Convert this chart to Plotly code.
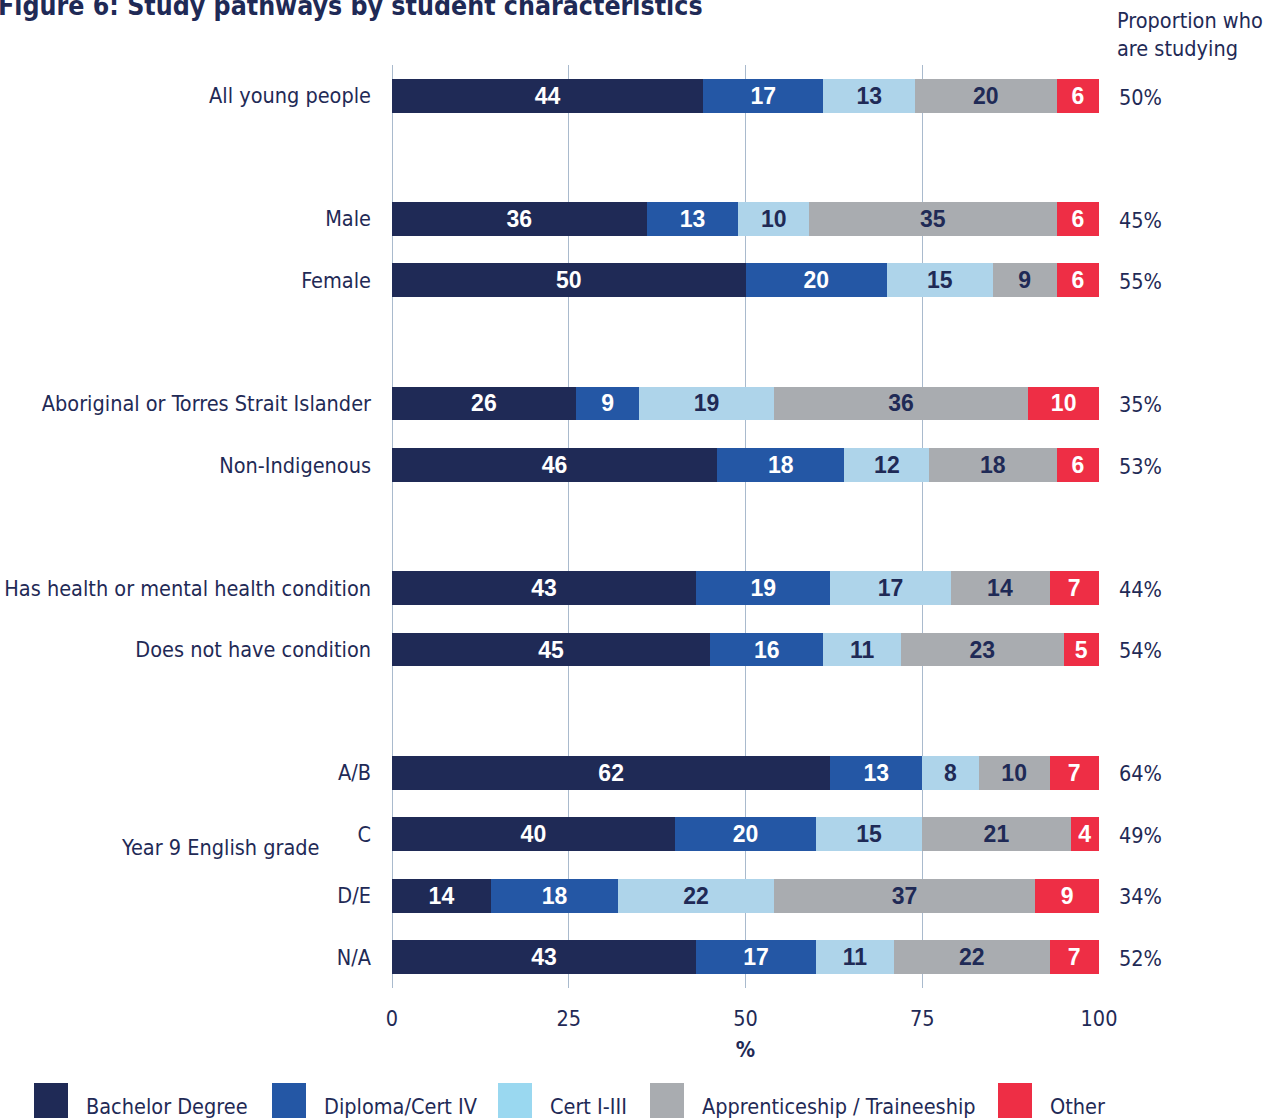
import plotly.graph_objects as go

# ---- data -------------------------------------------------------------
groups = [
    "All young people",
    "Male",
    "Female",
    "Aboriginal or Torres Strait Islander",
    "Non-Indigenous",
    "Has health or mental health condition",
    "Does not have condition",
    "A/B",
    "C",
    "D/E",
    "N/A",
]
# row slots (gaps separate the characteristic blocks)
row_pos = [0, 2, 3, 5, 6, 8, 9, 11, 12, 13, 14]

series_names = ["Bachelor Degree", "Diploma/Cert IV", "Cert I-III",
                "Apprenticeship / Traineeship", "Other"]
bachelor = [44, 36, 50, 26, 46, 43, 45, 62, 40, 14, 43]
diploma = [17, 13, 20, 9, 18, 19, 16, 13, 20, 18, 17]
cert = [13, 10, 15, 19, 12, 17, 11, 8, 15, 22, 11]
apprentice = [20, 35, 9, 36, 18, 14, 23, 10, 21, 37, 22]
other = [6, 6, 6, 10, 6, 7, 5, 7, 4, 9, 7]
studying = ["50%", "45%", "55%", "35%", "53%", "44%", "54%", "64%", "49%", "34%", "52%"]
x_ticks = [0, 25, 50, 75, 100]

# ---- styling ----------------------------------------------------------
NAVY = "#1f2a56"
fill_colors = ["#1f2a56", "#2457a5", "#aed4ea", "#a9acb0", "#ee2e45"]
legend_colors = ["#1f2a56", "#2457a5", "#9ad8f0", "#a9acb0", "#ee2e45"]
text_colors = ["white", "white", NAVY, NAVY, "white"]
LABEL_FONT = "DejaVu Sans Condensed, Liberation Sans Narrow, Roboto, sans-serif"
VALUE_FONT = "Liberation Sans, Arial, sans-serif"
FS = 21.5


def lfont(size=FS, **kw):
    return dict(family=LABEL_FONT, size=size, color=NAVY, **kw)


W, H = 1279, 1119
L, R, T, B = 392, 180, 65, 131
PW, PH = W - L - R, H - T - B


def px_x(px):
    return (px - L) / PW


def px_y(py):
    return 1 - (py - T) / PH


fig = go.Figure()
all_series = [bachelor, diploma, cert, apprentice, other]
for name, vals, col, tcol in zip(series_names, all_series, fill_colors, text_colors):
    fig.add_trace(go.Bar(
        name=name,
        y=row_pos,
        x=vals,
        orientation="h",
        width=0.55,
        marker=dict(color=col, line=dict(width=0)),
        text=[str(v) for v in vals],
        textposition="inside",
        insidetextanchor="middle",
        constraintext="none",
        textfont=dict(family=VALUE_FONT, size=23, color=tcol, weight="bold"),
        showlegend=False,
        hoverinfo="skip",
    ))

fig.update_layout(
    barmode="stack",
    width=W, height=H, autosize=False,
    margin=dict(l=L, r=R, t=T, b=B, autoexpand=False),
    paper_bgcolor="white",
    plot_bgcolor="white",
    font=lfont(),
)

fig.update_xaxes(
    range=[0, 100],
    tickvals=x_ticks,
    ticktext=[str(v) for v in x_ticks],
    showgrid=True, gridcolor="#a9bacd", gridwidth=1.3,
    zeroline=True, zerolinecolor="#a9bacd", zerolinewidth=1.3,
    showline=False,
    ticks="",
    ticklabelstandoff=15,
    tickfont=lfont(),
    title=dict(text="<b>%</b>", font=lfont(), standoff=12),
    automargin=False,
    fixedrange=True,
)

fig.update_yaxes(
    range=[14.5, -0.5],
    tickvals=row_pos,
    ticktext=groups,
    showgrid=False, zeroline=False, showline=False,
    ticks="",
    ticklabelstandoff=20,
    tickfont=lfont(),
    automargin=False,
    fixedrange=True,
)

annotations = []
# title
annotations.append(dict(
    text="<b>Figure 6: Study pathways by student characteristics</b>",
    xref="paper", yref="paper", x=px_x(-4), y=px_y(5),
    xanchor="left", yanchor="middle", showarrow=False,
    font=lfont(26.5),
))
# right-hand column header
annotations.append(dict(
    text="Proportion who<br>are studying",
    xref="paper", yref="paper", x=px_x(1115), y=px_y(34),
    xanchor="left", yanchor="middle", align="left", showarrow=False,
    font=lfont(),
))
# proportion studying per row
for pos, s in zip(row_pos, studying):
    annotations.append(dict(
        text=s, xref="paper", yref="y", x=px_x(1117), y=pos + 0.02,
        xanchor="left", yanchor="middle", showarrow=False,
        font=lfont(),
    ))
# block label for the English-grade rows
annotations.append(dict(
    text="Year 9 English grade", xref="paper", yref="y",
    x=px_x(322), y=12.22, xanchor="right", yanchor="middle", showarrow=False,
    font=lfont(),
))

# legend drawn as large swatches below the chart
shapes = []
swatch_x = [34, 272, 498, 650, 998]
for name, col, sx in zip(series_names, legend_colors, swatch_x):
    shapes.append(dict(
        type="rect", xref="paper", yref="paper",
        x0=px_x(sx), x1=px_x(sx + 34), y0=px_y(1118), y1=px_y(1083),
        fillcolor=col, line=dict(width=0),
    ))
    annotations.append(dict(
        text=name, xref="paper", yref="paper", x=px_x(sx + 50), y=px_y(1106),
        xanchor="left", yanchor="middle", showarrow=False,
        font=lfont(),
    ))

fig.update_layout(annotations=annotations, shapes=shapes)

fig.write_html("out.html", config={"displayModeBar": False})
